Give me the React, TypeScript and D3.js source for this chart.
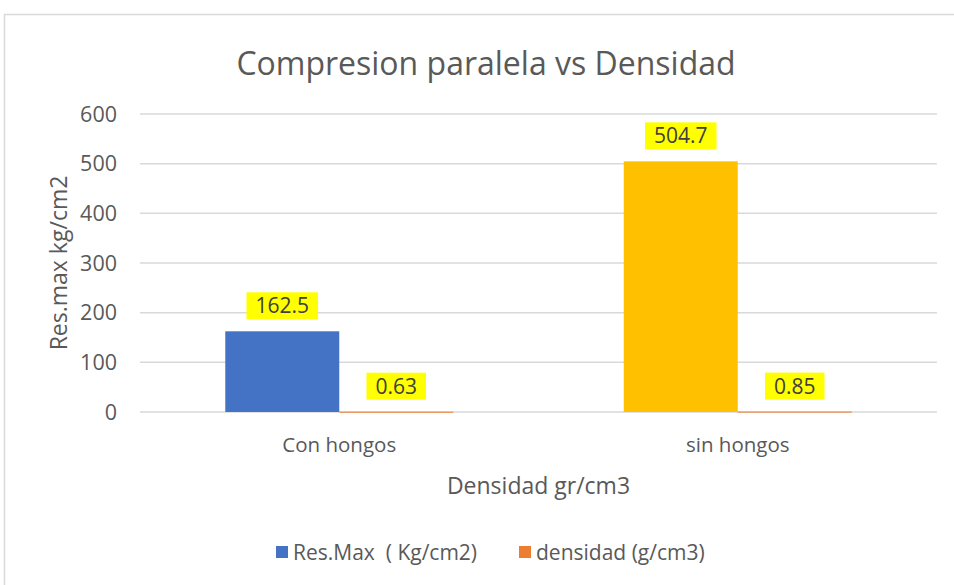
import * as d3 from "d3"

const categories = ["Con hongos", "sin hongos"]
const series = ["Res.Max  ( Kg/cm2)", "densidad (g/cm3)"]
const resMax = [162.5, 504.7]
const densidad = [0.63, 0.85]
const resMaxColors = ["#4472C4", "#FFC000"]
const densidadColor = "#ED7D31"
const seriesColors = ["#4472C4", "#ED7D31"]
const yTicks = [0, 100, 200, 300, 400, 500, 600]

const W = 954
const H = 585
const FONT = "'Open Sans', 'Noto Sans', sans-serif"

const canvas = document.createElement("canvas")
const ctx = canvas.getContext("2d")
function textWidth(s: string, size: number) {
  if (!ctx) return s.length * size * 0.55
  ctx.font = `${size}px 'Open Sans'`
  return ctx.measureText(s).width
}

export default function App() {
  const left = 140
  const right = 937
  const top = 114
  const bottom = 412

  const x = d3
    .scaleBand<string>()
    .domain(categories)
    .range([left, right])
    .paddingInner(0.428)
    .paddingOuter(0.214)
  const x1 = d3.scaleBand<number>().domain([0, 1]).range([0, x.bandwidth()])
  const y = d3.scaleLinear().domain([0, 600]).range([bottom, top])

  const bars = categories.flatMap((c, i) => [
    { key: `r${i}`, x: x(c)! + x1(0)!, v: resMax[i], color: resMaxColors[i] },
    { key: `d${i}`, x: x(c)! + x1(1)!, v: densidad[i], color: densidadColor },
  ])

  return (
    <svg
      width={W}
      height={H}
      style={{ position: "absolute", left: 0, top: 0, background: "#fff" }}
      fontFamily={FONT}
    >
      <rect x={4.5} y={14.5} width={W + 10} height={H + 10} fill="#fff" stroke="#d9d9d9" strokeWidth={1.5} />

      <text x={486} y={75} textAnchor="middle" fontSize={32} fill="#595959">
        Compresion paralela vs Densidad
      </text>

      {yTicks.map((t) => (
        <g key={t}>
          <line x1={left} x2={right} y1={y(t)} y2={y(t)} stroke="#d9d9d9" strokeWidth={1.5} />
          <text x={117} y={y(t)} dy="0.35em" textAnchor="end" fontSize={21.5} fill="#595959">
            {t}
          </text>
        </g>
      ))}

      <text
        transform={`translate(67, ${(top + bottom) / 2}) rotate(-90)`}
        textAnchor="middle"
        fontSize={23}
        fill="#595959"
      >
        Res.max kg/cm2
      </text>

      {bars.map((b) => (
        <rect
          key={b.key}
          x={b.x}
          y={y(b.v)}
          width={x1.bandwidth()}
          height={Math.max(1, bottom - y(b.v))}
          fill={b.color}
        />
      ))}

      {bars.map((b) => {
        const label = String(b.v)
        const w = textWidth(label, 21) + 18
        const cx = b.x + x1.bandwidth() / 2
        const by = y(b.v) - 12
        return (
          <g key={`l${b.key}`}>
            <rect x={cx - w / 2} y={by - 27} width={w} height={27} fill="#FFFF00" />
            <text x={cx} y={by - 6} textAnchor="middle" fontSize={21} fill="#404040">
              {label}
            </text>
          </g>
        )
      })}

      {categories.map((c) => (
        <text key={c} x={x(c)! + x.bandwidth() / 2} y={452} textAnchor="middle" fontSize={20.5} fill="#595959">
          {c}
        </text>
      ))}

      <text x={(left + right) / 2} y={494} textAnchor="middle" fontSize={23} fill="#595959">
        Densidad gr/cm3
      </text>

      {series.map((s, i) => {
        const lx = i === 0 ? 276 : 519
        return (
          <g key={s}>
            <rect x={lx} y={546} width={12} height={12} fill={seriesColors[i]} />
            <text x={lx + 17} y={560} fontSize={21} fill="#595959" style={{ whiteSpace: "pre" }}>
              {s}
            </text>
          </g>
        )
      })}
    </svg>
  )
}
